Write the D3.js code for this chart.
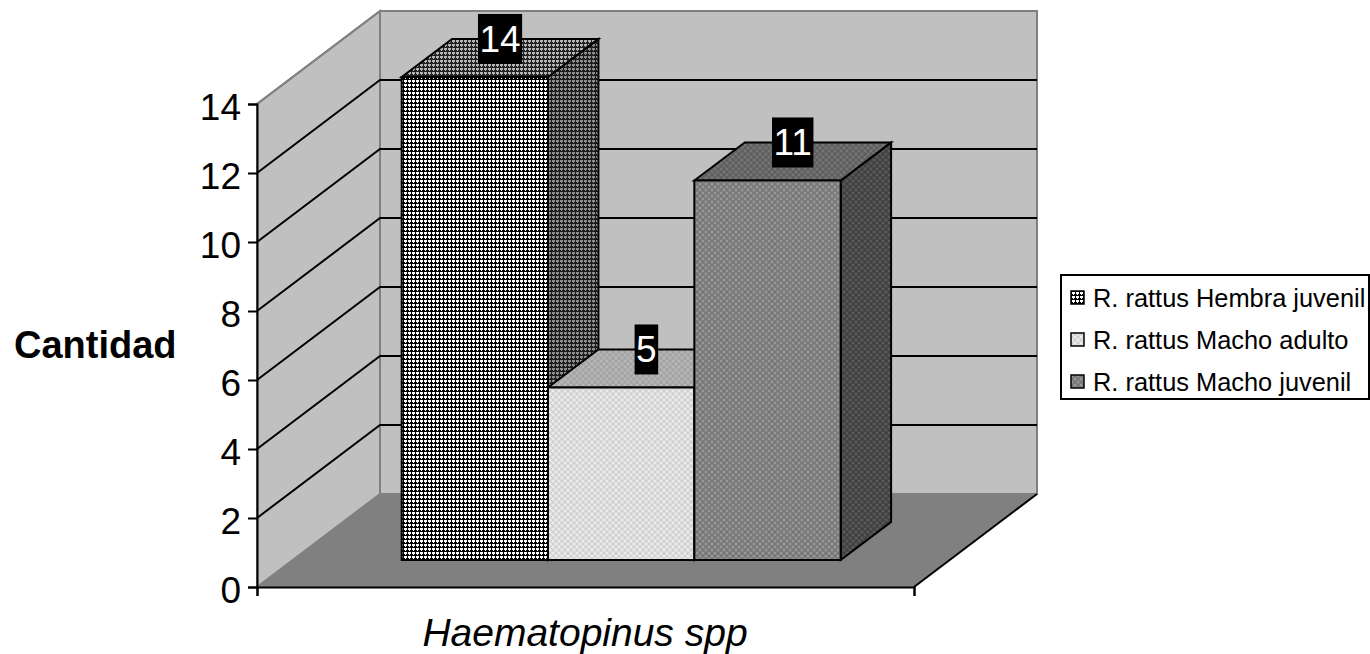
<!DOCTYPE html>
<html>
<head>
<meta charset="utf-8">
<style>
  html, body { margin: 0; padding: 0; background: #fff; }
  text { font-family: "Liberation Sans", Arial, sans-serif; fill: #000; }
</style>
</head>
<body>
<div id="chart"></div>
<script src="https://cdn.jsdelivr.net/npm/d3@7"></script>
<script>
const series = ['R. rattus Hembra juvenil', 'R. rattus Macho adulto', 'R. rattus Macho juvenil']
const values = [14, 5, 11]
const yTicks = [0, 2, 4, 6, 8, 10, 12, 14]
const category = 'Haematopinus spp'
const yTitle = 'Cantidad'

const svg = d3.select('#chart').append('svg')
  .attr('width', 1370)
  .attr('height', 654)
  .style('display', 'block')

const y = d3.scaleLinear().domain([0, 14]).range([587, 104])
const x = d3.scaleLinear().domain([0, 1]).range([257, 914])
const barX = d3.scaleBand().domain(series).range([366, 805])

// the 3d look: depth z goes 0 (front) to 1 (back wall)
const depthX = 123
const depthY = 93
const pt = (px, v, z) => [px + depthX * z, y(v) - depthY * z]
const poly = pts => pts.map(p => p.join(',')).join(' ')

// fill patterns, one per bar face
const defs = svg.append('defs')
function addPattern (id, size, bg, cells) {
  const p = defs.append('pattern')
    .attr('id', id)
    .attr('width', size)
    .attr('height', size)
    .attr('patternUnits', 'userSpaceOnUse')
  p.append('rect').attr('width', size).attr('height', size).attr('fill', bg)
  cells.forEach(c => {
    p.append('rect')
      .attr('x', c[0]).attr('y', c[1])
      .attr('width', c[2]).attr('height', c[3])
      .attr('fill', c[4])
  })
}
function gridPattern (id, bg, ink) {
  addPattern(id, 4, bg, [[0, 2, 4, 2, ink], [3, 0, 1, 4, ink], [1, 2, 1, 1, bg]])
}
function dotPattern (id, bg, dot, alt) {
  addPattern(id, 6, bg, [[0, 0, 2, 2, dot], [3, 3, 2, 2, dot], [3, 0, 2, 2, alt], [0, 3, 2, 2, alt]])
}
gridPattern('a-front', '#fff', '#000')
gridPattern('a-top', '#b4b4b4', '#222')
gridPattern('a-side', '#8c8c8c', '#1c1c1c')
dotPattern('b-front', '#dcdcdc', '#ececec', '#d0d0d0')
dotPattern('b-top', '#acacac', '#b8b8b8', '#a2a2a2')
dotPattern('c-front', '#808080', '#999', '#777')
dotPattern('c-top', '#666', '#767676', '#5e5e5e')
dotPattern('c-side', '#484848', '#5a5a5a', '#404040')

const faces = [
  { front: 'a-front', top: 'a-top', side: 'a-side' },
  { front: 'b-front', top: 'b-top', side: 'a-side' },
  { front: 'c-front', top: 'c-top', side: 'c-side' }
]

// walls and floor
const walls = svg.append('g')
walls.append('polygon')
  .attr('points', poly([pt(x(0), 0, 0), pt(x(0), 14, 0), pt(x(0), 14, 1), pt(x(0), 0, 1)]))
  .attr('fill', '#c0c0c0')
  .attr('stroke', '#808080')
  .attr('stroke-width', 2)
walls.append('polygon')
  .attr('points', poly([pt(x(0), 0, 1), pt(x(0), 14, 1), pt(x(1), 14, 1), pt(x(1), 0, 1)]))
  .attr('fill', '#c0c0c0')
  .attr('stroke', '#808080')
  .attr('stroke-width', 2)
walls.append('polygon')
  .attr('points', poly([pt(x(0), 0, 0), pt(x(0), 0, 1), pt(x(1), 0, 1), pt(x(1), 0, 0)]))
  .attr('fill', '#808080')

// gridlines run up the side wall, then along the back
const gridTicks = yTicks.filter(d => d > 0)
walls.selectAll('polyline.grid')
  .data(gridTicks)
  .join('polyline')
  .attr('class', 'grid')
  .attr('points', d => poly([pt(x(0), d, 0), pt(x(0), d, 1), pt(x(1), d, 1)]))
  .attr('fill', 'none')
  .attr('stroke', d => d === 14 ? 'none' : '#000')
  .attr('stroke-width', 2)
walls.append('line')
  .attr('x1', pt(x(1), 0, 0)[0]).attr('y1', pt(x(1), 0, 0)[1])
  .attr('x2', pt(x(1), 0, 1)[0]).attr('y2', pt(x(1), 0, 1)[1])
  .attr('stroke', '#000')
  .attr('stroke-width', 2)
walls.append('line')
  .attr('x1', pt(x(0), 14, 0)[0]).attr('y1', pt(x(0), 14, 0)[1])
  .attr('x2', pt(x(0), 14, 1)[0]).attr('y2', pt(x(0), 14, 1)[1])
  .attr('stroke', '#808080')
  .attr('stroke-width', 2)

// axes
const yAxis = svg.append('g')
  .attr('transform', `translate(${x(0)},0)`)
  .call(d3.axisLeft(y).tickValues(yTicks).tickSize(9).tickPadding(7))
yAxis.selectAll('text').style('font-size', '37px').attr('dy', '0.42em')
yAxis.selectAll('line, path').attr('stroke', '#000').attr('stroke-width', 2)

const xAxis = svg.append('g')
  .attr('transform', `translate(0,${y(0)})`)
  .call(d3.axisBottom(x).tickValues([0, 1]).tickSize(9).tickFormat(''))
xAxis.selectAll('line, path').attr('stroke', '#000').attr('stroke-width', 2)

// bars, side and top first so the front edge stays on top
const zFront = 0.29
const zBack = 0.7
const bars = svg.append('g')
  .attr('stroke', '#000')
  .attr('stroke-width', 2)
  .attr('stroke-linejoin', 'miter')
series.forEach((s, i) => {
  const x0 = barX(s)
  const x1 = x0 + barX.bandwidth()
  const v = values[i]
  bars.append('polygon')
    .attr('points', poly([pt(x1, 0, zFront), pt(x1, v, zFront), pt(x1, v, zBack), pt(x1, 0, zBack)]))
    .attr('fill', `url(#${faces[i].side})`)
  bars.append('polygon')
    .attr('points', poly([pt(x0, v, zFront), pt(x0, v, zBack), pt(x1, v, zBack), pt(x1, v, zFront)]))
    .attr('fill', `url(#${faces[i].top})`)
})
series.forEach((s, i) => {
  const x0 = barX(s)
  const x1 = x0 + barX.bandwidth()
  const v = values[i]
  bars.append('polygon')
    .attr('points', poly([pt(x0, 0, zFront), pt(x0, v, zFront), pt(x1, v, zFront), pt(x1, 0, zFront)]))
    .attr('fill', `url(#${faces[i].front})`)
})

// value labels, white on a black box, sitting over the middle of the bar top
series.forEach((s, i) => {
  const cx = barX(s) + barX.bandwidth() / 2
  const p = pt(cx, values[i], (zFront + zBack) / 2)
  const cy = p[1] - 19
  const g = svg.append('g')
  const box = g.append('rect').attr('fill', '#000')
  const t = g.append('text')
    .attr('x', p[0])
    .attr('y', cy + 13)
    .attr('text-anchor', 'middle')
    .style('font-size', '37px')
    .style('fill', '#fff')
    .text(values[i])
  const w = t.node().getComputedTextLength() + 3
  box.attr('x', p[0] - w / 2).attr('y', cy - 25).attr('width', w).attr('height', 50)
})

// titles
svg.append('text')
  .attr('x', 14)
  .attr('y', 358)
  .style('font-size', '38px')
  .style('font-weight', 'bold')
  .text(yTitle)
svg.append('text')
  .attr('x', 585)
  .attr('y', 646)
  .attr('text-anchor', 'middle')
  .style('font-size', '39px')
  .style('font-style', 'italic')
  .text(category)

// legend
const legend = svg.append('g')
legend.append('rect')
  .attr('x', 1061).attr('y', 275)
  .attr('width', 308).attr('height', 124)
  .attr('fill', '#fff')
  .attr('stroke', '#000')
  .attr('stroke-width', 2)
const legendY = d3.scalePoint().domain(series).range([298, 382])
legend.selectAll('rect.key')
  .data(series)
  .join('rect')
  .attr('class', 'key')
  .attr('x', 1071)
  .attr('y', d => legendY(d) - 7)
  .attr('width', 13)
  .attr('height', 13)
  .attr('fill', (d, i) => `url(#${faces[i].front})`)
  .attr('stroke', '#000')
  .attr('stroke-width', 1.5)
legend.selectAll('text')
  .data(series)
  .join('text')
  .attr('x', 1093)
  .attr('y', d => legendY(d) + 9)
  .style('font-size', '25.4px')
  .text(d => d)
</script>
</body>
</html>
